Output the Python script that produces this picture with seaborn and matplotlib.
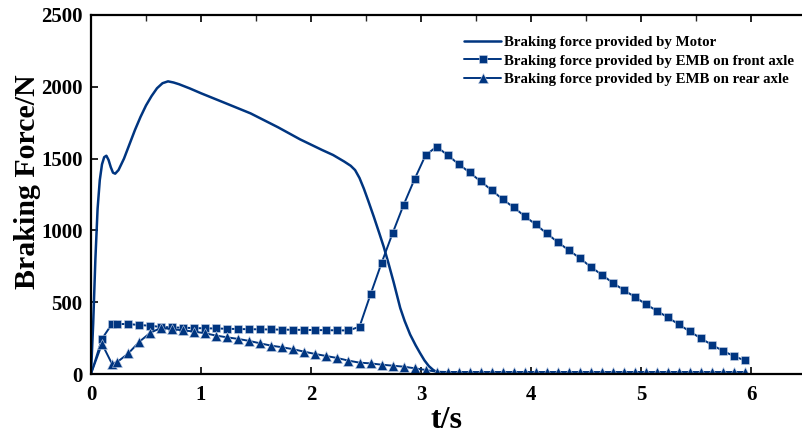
import numpy as np
import pandas as pd
import matplotlib
matplotlib.use("Agg")
import matplotlib.pyplot as plt
from matplotlib.ticker import MultipleLocator
import seaborn as sns

# ---------------- data ----------------
motor_t = [0, 0.02, 0.04, 0.06, 0.08, 0.10, 0.12, 0.14, 0.16, 0.18, 0.20, 0.22, 0.25,
           0.30, 0.35, 0.40, 0.45, 0.50, 0.55, 0.60, 0.65, 0.70, 0.75, 0.80, 0.90,
           1.00, 1.20, 1.45, 1.70, 1.90, 2.10, 2.20, 2.30, 2.36, 2.40, 2.44, 2.48,
           2.52, 2.57, 2.62, 2.66, 2.70, 2.75, 2.81, 2.85, 2.90, 2.95, 2.99, 3.03,
           3.07, 3.11, 3.15, 3.20, 3.25]
motor_f = [0, 350, 800, 1150, 1350, 1460, 1510, 1520, 1490, 1440, 1402, 1395, 1420,
           1500, 1600, 1700, 1790, 1870, 1935, 1990, 2025, 2038, 2030, 2018, 1988,
           1955, 1893, 1815, 1718, 1634, 1560, 1525, 1480, 1450, 1420, 1365, 1290,
           1205, 1095, 980, 886, 780, 640, 460, 370, 275, 200, 146, 95,
           55, 28, 10, 2, 0]

emb_t = [0, 0.10, 0.19, 0.24, 0.34, 0.44, 0.54, 0.64, 0.74, 0.84, 0.94, 1.04, 1.14,
         1.24, 1.34, 1.44, 1.54, 1.64, 1.74, 1.84, 1.94, 2.04, 2.14, 2.24, 2.34,
         2.44, 2.54, 2.64, 2.74, 2.84, 2.94, 3.04, 3.14, 3.24, 3.34, 3.44, 3.54,
         3.64, 3.74, 3.84, 3.94, 4.04, 4.14, 4.24, 4.34, 4.44, 4.54, 4.64, 4.74,
         4.84, 4.94, 5.04, 5.14, 5.24, 5.34, 5.44, 5.54, 5.64, 5.74, 5.84, 5.94]
front_f = [0, 245, 348, 348, 348, 341, 336, 327, 325, 322, 320, 318, 317,
           315, 313, 312, 311, 310, 309, 308, 307, 306, 305, 304, 303,
           329, 554, 772, 979, 1176, 1356, 1523, 1583, 1525, 1462, 1404, 1342,
           1281, 1217, 1161, 1100, 1042, 980, 919, 863, 808, 747, 692, 636,
           585, 538, 487, 441, 395, 346, 297, 249, 204, 162, 125, 95]
rear_f = [0, 210, 72, 84, 144, 225, 288, 322, 311, 304, 295, 283, 267,
          255, 244, 230, 213, 197, 186, 172, 155, 139, 125, 111, 93,
          79, 74, 65, 58, 51, 40, 28, 16, 14, 14, 14, 14,
          14, 14, 14, 14, 14, 14, 14, 14, 14, 14, 14, 14,
          14, 14, 14, 14, 14, 14, 14, 14, 14, 14, 14, 14]

labels = ["Braking force provided by Motor",
          "Braking force provided by EMB on front axle",
          "Braking force provided by EMB on rear axle"]
x_ticks = [0, 1, 2, 3, 4, 5, 6]
y_ticks = [0, 500, 1000, 1500, 2000, 2500]

# ---------------- style ----------------
sns.set_theme(style="white")
plt.rcParams["font.family"] = ["Liberation Serif", "DejaVu Serif"]
plt.rcParams["font.weight"] = "bold"
plt.rcParams["text.color"] = "black"
plt.rcParams["axes.labelcolor"] = "black"
color = "#003580"

fig = plt.figure(figsize=(8.03, 4.36), dpi=100)
ax = fig.add_axes([0.1133, 0.1422, 0.8867, 0.8234])

df_m = pd.DataFrame({"t": motor_t, "F": motor_f})
df_f = pd.DataFrame({"t": emb_t, "F": front_f})
df_r = pd.DataFrame({"t": emb_t, "F": rear_f})

sns.lineplot(data=df_m, x="t", y="F", ax=ax, color=color, lw=1.8,
             label=labels[0], sort=False, estimator=None)
sns.lineplot(data=df_f, x="t", y="F", ax=ax, color=color, lw=1.4,
             marker="s", markersize=6, markeredgewidth=0.4, markeredgecolor="#c8d4e8",
             markevery=list(range(1, len(emb_t))),
             label=labels[1], sort=False, estimator=None)
sns.lineplot(data=df_r, x="t", y="F", ax=ax, color=color, lw=1.4,
             marker="^", markersize=6.5, markeredgewidth=0.4, markeredgecolor="#c8d4e8",
             markevery=list(range(1, len(emb_t))),
             label=labels[2], sort=False, estimator=None)

ax.set_xlim(0, 6.47)
ax.set_ylim(0, 2500)
ax.set_xticks(x_ticks)
ax.set_yticks(y_ticks)
ax.set_xticklabels([str(v) for v in x_ticks], fontsize=15, fontweight="bold", color="black")
ax.set_yticklabels([str(v) for v in y_ticks], fontsize=15, fontweight="bold", color="black")
ax.xaxis.set_minor_locator(MultipleLocator(0.5))
ax.tick_params(axis="both", which="major", direction="in", length=5, width=1.2,
               bottom=True, top=True, left=True, right=False, colors="black")
ax.tick_params(axis="x", which="major", pad=8)
ax.tick_params(axis="y", which="major", pad=6)
ax.tick_params(axis="x", which="minor", direction="in", length=4, width=1.0,
               bottom=False, top=True)

for side in ["left", "bottom", "top"]:
    ax.spines[side].set_visible(True)
    ax.spines[side].set_color("black")
    ax.spines[side].set_linewidth(1.6)
ax.spines["right"].set_visible(False)

ax.set_xlabel("t/s", fontsize=23, fontweight="bold", color="black")
ax.set_ylabel("Braking Force/N", fontsize=21.5, fontweight="bold", color="black")
ax.xaxis.set_label_coords(0.5, -0.09)
ax.yaxis.set_label_coords(-0.07, 0.535)

leg = ax.legend(loc="upper right", bbox_to_anchor=(1.0, 0.968), frameon=False,
                prop={"family": "Liberation Serif", "weight": "bold", "size": 10.7},
                handlelength=2.5, handletextpad=0.2, labelspacing=0.36,
                borderaxespad=0.2)
for txt in leg.get_texts():
    txt.set_color("black")

fig.savefig("out.png", dpi=100)
